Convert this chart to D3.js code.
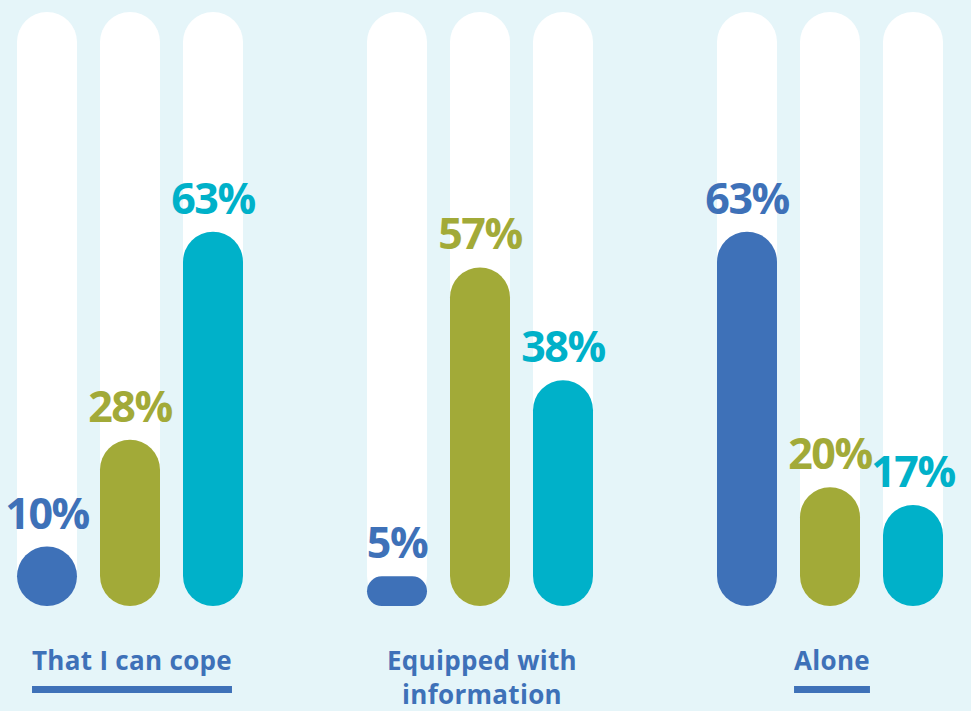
<!DOCTYPE html>
<html>
<head>
<meta charset="utf-8">
<script src="https://cdn.jsdelivr.net/npm/d3@7"></script>
<style>
html,body{margin:0;padding:0;background:#e5f5f9;}
svg{display:block;}
</style>
</head>
<body>
<script>
const categories = ["That I can cope", "Equipped with information", "Alone"];
const categoryLines = [["That I can cope"], ["Equipped with", "information"], ["Alone"]];
const seriesNames = ["s1", "s2", "s3"];
const seriesColors = ["#3e71b8", "#a2aa38", "#00b1c9"];
const values = [
  [10, 28, 63],
  [5, 57, 38],
  [63, 20, 17]
];
const maxValue = 100;

const W = 971, H = 711;
const svg = d3.select("body").append("svg").attr("width", W).attr("height", H);
svg.append("rect").attr("width", W).attr("height", H).attr("fill", "#e5f5f9");

const x0 = d3.scaleBand().domain(categories).range([17, 943]).paddingInner(124/350).paddingOuter(0);
const x1 = d3.scaleBand().domain(seriesNames).range([0, x0.bandwidth()]).paddingInner(23/83).paddingOuter(0);
const y = d3.scaleLinear().domain([0, maxValue]).range([606, 12]);

const bw = x1.bandwidth();
const groups = svg.selectAll("g.grp").data(categories).enter().append("g")
  .attr("class", "grp")
  .attr("transform", d => `translate(${x0(d)},0)`);

groups.each(function(cat, gi) {
  const g = d3.select(this);
  const data = seriesNames.map((s, si) => ({s, si, v: values[gi][si]}));
  g.selectAll("rect.track").data(data).enter().append("rect")
    .attr("x", d => x1(d.s)).attr("width", bw)
    .attr("y", y(maxValue)).attr("height", y(0) - y(maxValue))
    .attr("rx", bw/2).attr("ry", bw/2)
    .attr("fill", "#ffffff");
  g.selectAll("rect.bar").data(data).enter().append("rect")
    .attr("x", d => x1(d.s)).attr("width", bw)
    .attr("y", d => y(d.v)).attr("height", d => y(0) - y(d.v))
    .attr("rx", d => Math.min(bw/2, (y(0) - y(d.v))/2))
    .attr("ry", d => Math.min(bw/2, (y(0) - y(d.v))/2))
    .attr("fill", d => seriesColors[d.si]);
  g.selectAll("text.val").data(data).enter().append("text")
    .attr("x", d => x1(d.s) + bw/2)
    .attr("y", d => y(d.v) - 18)
    .attr("text-anchor", "middle")
    .attr("font-family", "'Open Sans', sans-serif")
    .attr("font-weight", 700)
    .attr("font-size", 43)
    .attr("letter-spacing", -1.5)
    .attr("fill", d => seriesColors[d.si])
    .text(d => d.v + "%");
});

categories.forEach((cat, gi) => {
  const cx = x0(cat) + x0.bandwidth()/2 + 2;
  const lines = categoryLines[gi];
  let maxW = 0, lastY = 0;
  lines.forEach((ln, li) => {
    const t = svg.append("text")
      .attr("x", cx).attr("y", 670 + li*34)
      .attr("text-anchor", "middle")
      .attr("font-family", "'Open Sans', sans-serif")
      .attr("font-weight", 700)
      .attr("font-size", 26)
      .attr("letter-spacing", 0.3)
      .attr("fill", "#3e71b8")
      .text(ln);
    maxW = Math.max(maxW, t.node().getComputedTextLength());
    lastY = 670 + li*34;
  });
  svg.append("rect")
    .attr("x", cx - maxW/2).attr("width", maxW)
    .attr("y", lastY + 16).attr("height", 7)
    .attr("fill", "#3e71b8");
});
</script>
</body>
</html>
